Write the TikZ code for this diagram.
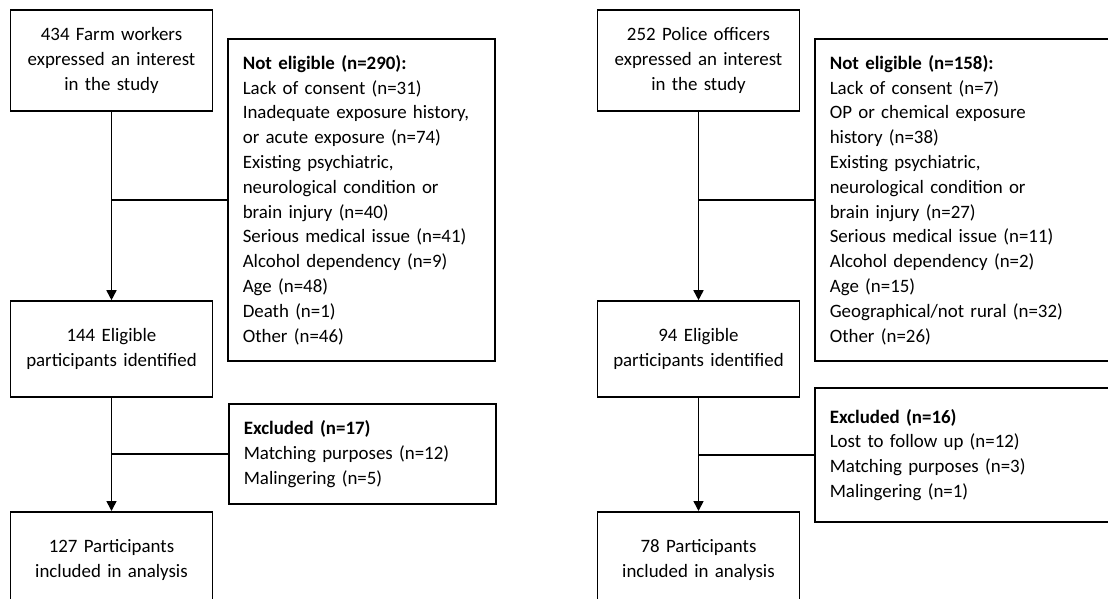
\documentclass[tikz,border=0pt]{standalone}
\usepackage{fontspec}
\setmainfont{Carlito}
\usetikzlibrary{arrows.meta}

\tikzset{
  stagebox/.style={draw, line width=1.6pt, minimum width=202pt, text width=190pt,
    align=center, inner sep=0pt, font=\fontsize{18.9}{24.8}\selectfont},
  reasonbox/.style={draw, line width=1.6pt, anchor=west, inner xsep=15pt, inner ysep=0pt,
    align=left, font=\fontsize{18.9}{24.8}\selectfont},
}

\begin{document}
\begin{tikzpicture}[x=1pt, y=-1pt, >={Triangle[width=10pt,length=10pt]}, line width=1.6pt]
        \useasboundingbox (0,0) rectangle (1108,598);
        \clip (0,0) rectangle (1108,598);

        % farm workers
        \node[stagebox, minimum height=101pt] (farm) at (111.5,60.5)
            {434 Farm workers\\expressed an interest\\in the study};
        \node[stagebox, minimum height=96pt] (farmelig) at (111.5,349)
            {144 Eligible\\participants identified};
        \node[stagebox, minimum height=96pt, anchor=north] (farmfinal) at (111.5,511)
            {127 Participants\\included in analysis};
        \node[reasonbox, text width=237pt, minimum height=322pt] (farmout) at (227,200)
            {\textbf{Not eligible (n=290):}\\Lack of consent (n=31)\\Inadequate exposure history,\\or acute exposure (n=74)\\Existing psychiatric,\\neurological condition or\\brain injury (n=40)\\Serious medical issue (n=41)\\Alcohol dependency (n=9)\\Age (n=48)\\Death (n=1)\\Other (n=46)};
        \node[reasonbox, text width=237pt, minimum height=100pt] (farmexcl) at (228,454)
            {\textbf{Excluded (n=17)}\\Matching purposes (n=12)\\Malingering (n=5)};

        % police officers
        \node[stagebox, minimum height=101pt] (police) at (698.5,60.5)
            {252 Police officers\\expressed an interest\\in the study};
        \node[stagebox, minimum height=96pt] (policeelig) at (698.5,349)
            {94 Eligible\\participants identified};
        \node[stagebox, minimum height=96pt, anchor=north] (policefinal) at (698.5,511)
            {78 Participants\\included in analysis};
        \node[reasonbox, text width=280pt, minimum height=322pt] (policeout) at (814,200)
            {\textbf{Not eligible (n=158):}\\Lack of consent (n=7)\\OP or chemical exposure\\history (n=38)\\Existing psychiatric,\\neurological condition or\\brain injury (n=27)\\Serious medical issue (n=11)\\Alcohol dependency (n=2)\\Age (n=15)\\Geographical/not rural (n=32)\\Other (n=26)};
        \node[reasonbox, text width=280pt, minimum height=134pt] (policeexcl) at (814,455)
            {\textbf{Excluded (n=16)}\\Lost to follow up (n=12)\\Matching purposes (n=3)\\Malingering (n=1)};

        \draw[->] (farm) -- (farmelig);
        \draw[->] (farmelig) -- (farmfinal);
        \draw (farm |- farmout.west) -- (farmout.west);
        \draw (farm |- farmexcl.west) -- (farmexcl.west);

        \draw[->] (police) -- (policeelig);
        \draw[->] (policeelig) -- (policefinal);
        \draw (police |- policeout.west) -- (policeout.west);
        \draw (police |- policeexcl.west) -- (policeexcl.west);
    \end{tikzpicture}
\end{document}
